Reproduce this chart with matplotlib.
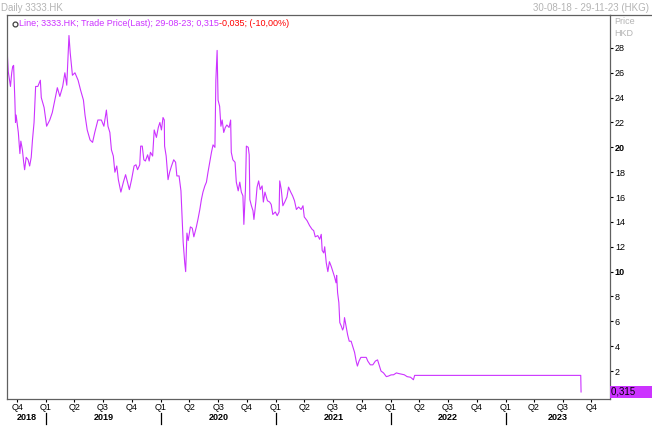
import matplotlib
matplotlib.use("Agg")
import matplotlib.pyplot as plt
from matplotlib.lines import Line2D
import pandas as pd

plt.rcParams["font.family"] = ["Liberation Sans", "DejaVu Sans"]

# 3333.HK daily close (HKD)
dates = [
    "2018-08-30", "2018-09-03", "2018-09-10", "2018-09-14", "2018-09-17", "2018-09-20",
    "2018-09-24", "2018-09-26", "2018-09-28", "2018-10-05", "2018-10-10", "2018-10-13",
    "2018-10-18", "2018-10-22", "2018-10-25", "2018-10-30", "2018-11-05", "2018-11-10",
    "2018-11-15", "2018-11-19", "2018-11-24", "2018-11-29", "2018-12-06", "2018-12-14",
    "2018-12-17", "2018-12-26", "2019-01-03", "2019-01-13", "2019-01-21", "2019-01-29",
    "2019-02-06", "2019-02-14", "2019-02-23", "2019-03-02", "2019-03-08", "2019-03-15",
    "2019-03-19", "2019-03-26", "2019-04-03", "2019-04-13", "2019-04-21", "2019-04-30",
    "2019-05-05", "2019-05-12", "2019-05-21", "2019-05-29", "2019-06-05", "2019-06-15",
    "2019-06-26", "2019-07-04", "2019-07-12", "2019-07-17", "2019-07-23", "2019-07-28",
    "2019-08-03", "2019-08-08", "2019-08-14", "2019-08-19", "2019-08-27", "2019-09-04",
    "2019-09-11", "2019-09-16", "2019-09-23", "2019-09-30", "2019-10-08", "2019-10-14",
    "2019-10-19", "2019-10-26", "2019-10-29", "2019-11-03", "2019-11-08", "2019-11-13",
    "2019-11-20", "2019-11-25", "2019-11-29", "2019-12-06", "2019-12-11", "2019-12-18",
    "2019-12-24", "2019-12-29", "2020-01-03", "2020-01-08", "2020-01-12", "2020-01-13",
    "2020-01-18", "2020-01-24", "2020-01-29", "2020-02-04", "2020-02-11", "2020-02-17",
    "2020-02-21", "2020-02-28", "2020-03-05", "2020-03-09", "2020-03-12", "2020-03-17",
    "2020-03-20", "2020-03-24", "2020-03-28", "2020-04-04", "2020-04-10", "2020-04-15",
    "2020-04-23", "2020-04-28", "2020-05-04", "2020-05-09", "2020-05-14", "2020-05-20",
    "2020-05-25", "2020-05-30", "2020-06-05", "2020-06-10", "2020-06-15", "2020-06-21",
    "2020-06-24", "2020-06-28", "2020-07-01", "2020-07-06", "2020-07-10", "2020-07-14",
    "2020-07-19", "2020-07-24", "2020-07-29", "2020-08-05", "2020-08-10", "2020-08-12",
    "2020-08-17", "2020-08-24", "2020-08-28", "2020-09-03", "2020-09-08", "2020-09-13",
    "2020-09-18", "2020-09-21", "2020-09-26", "2020-09-29", "2020-10-05", "2020-10-08",
    "2020-10-10", "2020-10-15", "2020-10-20", "2020-10-23", "2020-10-29", "2020-11-02",
    "2020-11-07", "2020-11-12", "2020-11-18", "2020-11-22", "2020-11-27", "2020-12-05",
    "2020-12-12", "2020-12-17", "2020-12-22", "2020-12-30", "2021-01-05", "2021-01-11",
    "2021-01-13", "2021-01-18", "2021-01-23", "2021-01-29", "2021-02-05", "2021-02-10",
    "2021-02-17", "2021-02-23", "2021-03-01", "2021-03-07", "2021-03-14", "2021-03-22",
    "2021-03-28", "2021-04-01", "2021-04-10", "2021-04-18", "2021-04-26", "2021-05-01",
    "2021-05-06", "2021-05-14", "2021-05-20", "2021-05-25", "2021-05-28", "2021-06-02",
    "2021-06-05", "2021-06-10", "2021-06-15", "2021-06-20", "2021-06-26", "2021-07-01",
    "2021-07-06", "2021-07-11", "2021-07-13", "2021-07-16", "2021-07-20", "2021-07-23",
    "2021-07-28", "2021-08-01", "2021-08-04", "2021-08-07", "2021-08-12", "2021-08-17",
    "2021-08-22", "2021-08-28", "2021-09-03", "2021-09-08", "2021-09-13", "2021-09-17",
    "2021-09-22", "2021-09-28", "2021-10-07", "2021-10-15", "2021-10-20", "2021-10-28",
    "2021-11-05", "2021-11-13", "2021-11-20", "2021-11-26", "2021-12-01", "2021-12-09",
    "2021-12-18", "2021-12-25", "2022-01-02", "2022-01-10", "2022-01-19", "2022-01-26",
    "2022-02-04", "2022-02-13", "2022-02-22", "2022-03-05", "2022-03-14", "2022-03-18",
    "2023-08-28", "2023-08-29",
]
prices = [
    28.0, 26.1, 24.9, 26.0, 26.5, 26.6,
    23.8, 22.0, 22.6, 21.2, 19.5, 20.5,
    19.8, 18.8, 18.2, 19.2, 19.0, 18.5,
    19.2, 20.6, 22.0, 24.9, 24.9, 25.4,
    24.0, 23.2, 21.7, 22.2, 22.8, 23.8,
    24.8, 24.1, 24.9, 26.0, 25.0, 29.0,
    27.6, 25.8, 26.0, 25.4, 24.6, 23.8,
    22.6, 21.4, 20.6, 20.4, 21.2, 22.2,
    22.2, 21.7, 23.0, 21.7, 21.2, 19.8,
    19.3, 18.0, 18.5, 17.4, 16.4, 17.2,
    17.8, 17.3, 16.6, 17.4, 18.5, 18.6,
    18.2, 18.6, 20.1, 20.1, 19.0, 18.9,
    19.4, 18.9, 19.6, 19.3, 21.4, 20.8,
    21.6, 22.0, 21.4, 22.4, 22.2, 20.1,
    19.3, 17.4, 18.0, 18.5, 19.0, 18.8,
    17.7, 17.7, 16.5, 14.1, 12.4, 10.7,
    10.0, 13.1, 12.5, 13.6, 13.5, 12.8,
    13.6, 14.2, 15.0, 15.8, 16.4, 16.9,
    17.2, 18.0, 18.9, 19.6, 20.2, 20.0,
    25.4, 27.8, 23.8, 23.3, 21.7, 22.2,
    21.2, 21.6, 21.8, 21.6, 22.2, 19.6,
    19.0, 18.8, 17.2, 16.5, 17.2, 16.4,
    16.1, 13.8, 16.6, 20.1, 20.0, 19.4,
    15.8, 15.3, 14.9, 14.2, 15.6, 16.8,
    17.3, 16.6, 16.9, 15.6, 16.4, 15.7,
    15.6, 15.4, 14.6, 14.8, 14.5, 14.8,
    17.3, 16.6, 15.3, 15.6, 16.0, 16.8,
    16.4, 16.1, 15.7, 15.0, 15.2, 15.0,
    15.3, 14.4, 14.1, 13.7, 13.4, 13.3,
    12.8, 12.9, 12.6, 13.0, 11.7, 11.5,
    12.0, 10.7, 10.0, 10.8, 10.4, 10.0,
    9.6, 9.1, 9.7, 8.3, 7.5, 5.9,
    5.6, 5.3, 5.5, 6.3, 5.6, 4.9,
    4.4, 4.4, 3.9, 3.5, 2.8, 2.4,
    2.8, 3.1, 3.1, 3.1, 2.8, 2.5,
    2.5, 2.8, 2.9, 2.4, 2.0, 1.85,
    1.55, 1.6, 1.69, 1.7, 1.85, 1.8,
    1.75, 1.7, 1.55, 1.5, 1.3, 1.65,
    1.65, 0.315,
]

y_ticks = list(range(2, 29, 2))
bold_ticks = [10, 20]
year_labels = [2018, 2019, 2020, 2021, 2022, 2023]

x_start = pd.Timestamp("2018-08-30")
x_end = pd.Timestamp("2023-11-29")

line_color = "#cc33ff"
frame_color = "#606060"
light_grey = "#b4b4b4"


def main():
    fig = plt.figure(figsize=(6.52, 4.4), dpi=100)
    ax = fig.add_axes([7 / 652, 1 - 399 / 440, 603 / 652, 384 / 440])

    ax.plot(pd.to_datetime(dates), prices, color=line_color, linewidth=0.8)

    ax.set_xlim(x_start, x_end)
    ax.set_ylim(-0.25, 30.65)

    for side in ["left", "right", "bottom", "top"]:
        ax.spines[side].set_color(frame_color)
        ax.spines[side].set_linewidth(0.9)
    fig.add_artist(Line2D([610 / 652, 1.0], [1 - 15 / 440, 1 - 15 / 440],
                          color=frame_color, linewidth=0.9))

    # right price axis
    ax.yaxis.tick_right()
    ax.set_yticks(y_ticks)
    ax.set_yticklabels([str(t) for t in y_ticks])
    ax.tick_params(axis="y", length=2, width=0.8, pad=1.5, labelsize=6.5)
    for lbl, t in zip(ax.get_yticklabels(), y_ticks):
        if t in bold_ticks:
            lbl.set_fontweight("bold")

    # quarter ticks along the bottom
    quarters = pd.date_range("2018-10-01", "2023-10-01", freq="QS")
    ax.set_xticks(quarters)
    ax.set_xticklabels([f"Q{(q.month - 1) // 3 + 1}" for q in quarters])
    ax.tick_params(axis="x", length=2, width=0.8, pad=1, labelsize=6.5)

    xtrans = ax.get_xaxis_transform()
    for yr in year_labels:
        lo = max(pd.Timestamp(f"{yr}-01-01"), x_start)
        hi = min(pd.Timestamp(f"{yr + 1}-01-01"), x_end)
        ax.text(lo + (hi - lo) / 2, -0.049, str(yr), transform=xtrans,
                ha="center", va="center", fontsize=6.5, fontweight="bold")
        if yr > year_labels[0]:
            jan = pd.Timestamp(f"{yr}-01-01")
            ax.plot([jan, jan], [-0.036, -0.064], transform=xtrans,
                    color="black", linewidth=0.9, clip_on=False)

    # headers
    fig.text(1 / 652, 1 - 8 / 440, "Daily 3333.HK", color=light_grey,
             fontsize=7, ha="left", va="center")
    fig.text(649 / 652, 1 - 8 / 440, "30-08-18 - 29-11-23 (HKG)", color=light_grey,
             fontsize=7, ha="right", va="center")
    fig.text(614 / 652, 1 - 22 / 440, "Price", color=light_grey,
             fontsize=6.5, ha="left", va="center")
    fig.text(614 / 652, 1 - 33 / 440, "HKD", color=light_grey,
             fontsize=6.5, ha="left", va="center")

    # legend line
    ax.plot([0.0125], [0.977], transform=ax.transAxes, marker="o", markersize=3.5,
            markerfacecolor="white", markeredgecolor="#404040", markeredgewidth=0.9)
    t1 = fig.text(19 / 652, 1 - 23 / 440,
                  "Line; 3333.HK; Trade Price(Last); 29-08-23; 0,315",
                  color=line_color, fontsize=6.5, ha="left", va="center")
    ax.annotate("-0,035; (-10,00%)", xy=(1, 0.5), xycoords=t1,
                color="red", fontsize=6.5, ha="left", va="center")

    # last value box
    ax.text(1.0 + 1 / 603, prices[-1], "0,315      ", transform=ax.get_yaxis_transform(),
            ha="left", va="center", fontsize=7, color="black",
            bbox=dict(boxstyle="square,pad=0.12", facecolor=line_color, edgecolor="none"))

    fig.savefig("out.png", dpi=100, facecolor="white")
    plt.close(fig)


if __name__ == "__main__":
    main()
